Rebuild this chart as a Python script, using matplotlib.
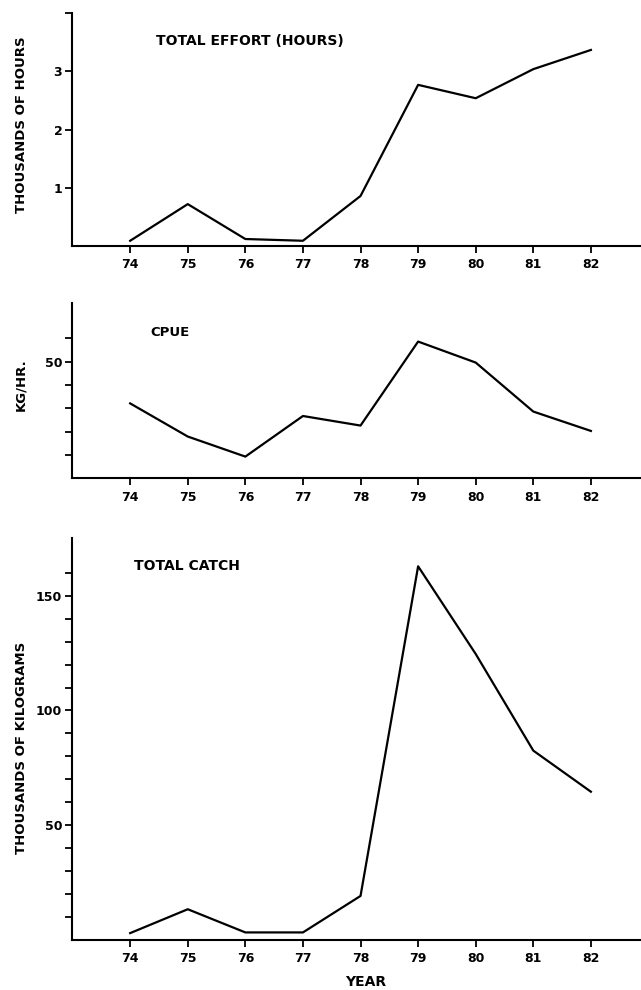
import matplotlib
matplotlib.use("Agg")
import matplotlib.pyplot as plt
from matplotlib.ticker import FixedLocator, FixedFormatter

years = [74, 75, 76, 77, 78, 79, 80, 81, 82]
effort = [0.09, 0.72, 0.12, 0.09, 0.86, 2.77, 2.54, 3.04, 3.37]
cpue = [32.1, 17.9, 9.3, 26.7, 22.6, 58.6, 49.6, 28.6, 20.3]
catch = [3.0, 13.4, 3.3, 3.3, 19.2, 162.8, 124.6, 82.5, 64.6]

year_labels = [str(y) for y in years]

plt.rcParams['font.family'] = ['DejaVu Sans']
plt.rcParams['font.weight'] = 'bold'

W, H = 641, 990
fig = plt.figure(figsize=(W / 100, H / 100), dpi=100)


def make_ax(top_px, bottom_px):
    left = 72 / W
    return fig.add_axes([left, 1 - bottom_px / H, 1 - left, (bottom_px - top_px) / H])


def style(ax, yticks, ylabels, ylim, ylabel, label_y):
    for s in ('top', 'right'):
        ax.spines[s].set_visible(False)
    for s in ('left', 'bottom'):
        ax.spines[s].set_linewidth(1.5)
    ax.set_xlim(72.99, 82.87)
    ax.set_ylim(*ylim)
    ax.xaxis.set_major_locator(FixedLocator(years))
    ax.xaxis.set_major_formatter(FixedFormatter(year_labels))
    ax.yaxis.set_major_locator(FixedLocator(yticks))
    ax.yaxis.set_major_formatter(FixedFormatter(ylabels))
    ax.tick_params(axis='both', direction='out', length=5, width=1.3,
                   labelsize=9)
    ax.tick_params(axis='x', pad=4)
    ax.tick_params(axis='y', pad=2)
    for t in ax.get_xticklabels() + ax.get_yticklabels():
        t.set_fontweight('bold')
    ax.set_ylabel(ylabel, fontsize=9.5, fontweight='bold')
    ax.yaxis.label.set_verticalalignment('center')
    ax.yaxis.set_label_coords(-0.0896, label_y)


# Panel 1: total effort
ax1 = make_ax(13.3, 246)
ax1.plot(years, effort, color='black', lw=1.6)
style(ax1, [1, 2, 3, 4], ['1', '2', '3', ''], (0, 4), 'THOUSANDS OF HOURS', 0.52)
ax1.text(74.44, 3.52, 'TOTAL EFFORT (HOURS)', fontsize=10, fontweight='bold',
         va='center', ha='left')

# Panel 2: CPUE
ax2 = make_ax(303.3, 478.3)
ax2.plot(years, cpue, color='black', lw=1.6)
style(ax2, [10, 20, 30, 40, 50, 60], ['', '', '', '', '50', ''], (0, 75),
      'KG/HR.', 0.533)
ax2.text(74.35, 62.4, 'CPUE', fontsize=9.5, fontweight='bold', va='center', ha='left')

# Panel 3: total catch
ax3 = make_ax(538.3, 940)
ax3.plot(years, catch, color='black', lw=1.6)
ct = list(range(10, 170, 10))
cl = [str(v) if v in (50, 100, 150) else '' for v in ct]
style(ax3, ct, cl, (0, 175), 'THOUSANDS OF KILOGRAMS', 0.478)
ax3.text(74.06, 163, 'TOTAL CATCH', fontsize=10, fontweight='bold', va='center', ha='left')
ax3.text((366 - 72) / (W - 72), (940 - 982) / (940 - 538.3), 'YEAR', fontsize=10,
         fontweight='bold', ha='center', va='center', transform=ax3.transAxes)

fig.savefig('out.png', dpi=100)
